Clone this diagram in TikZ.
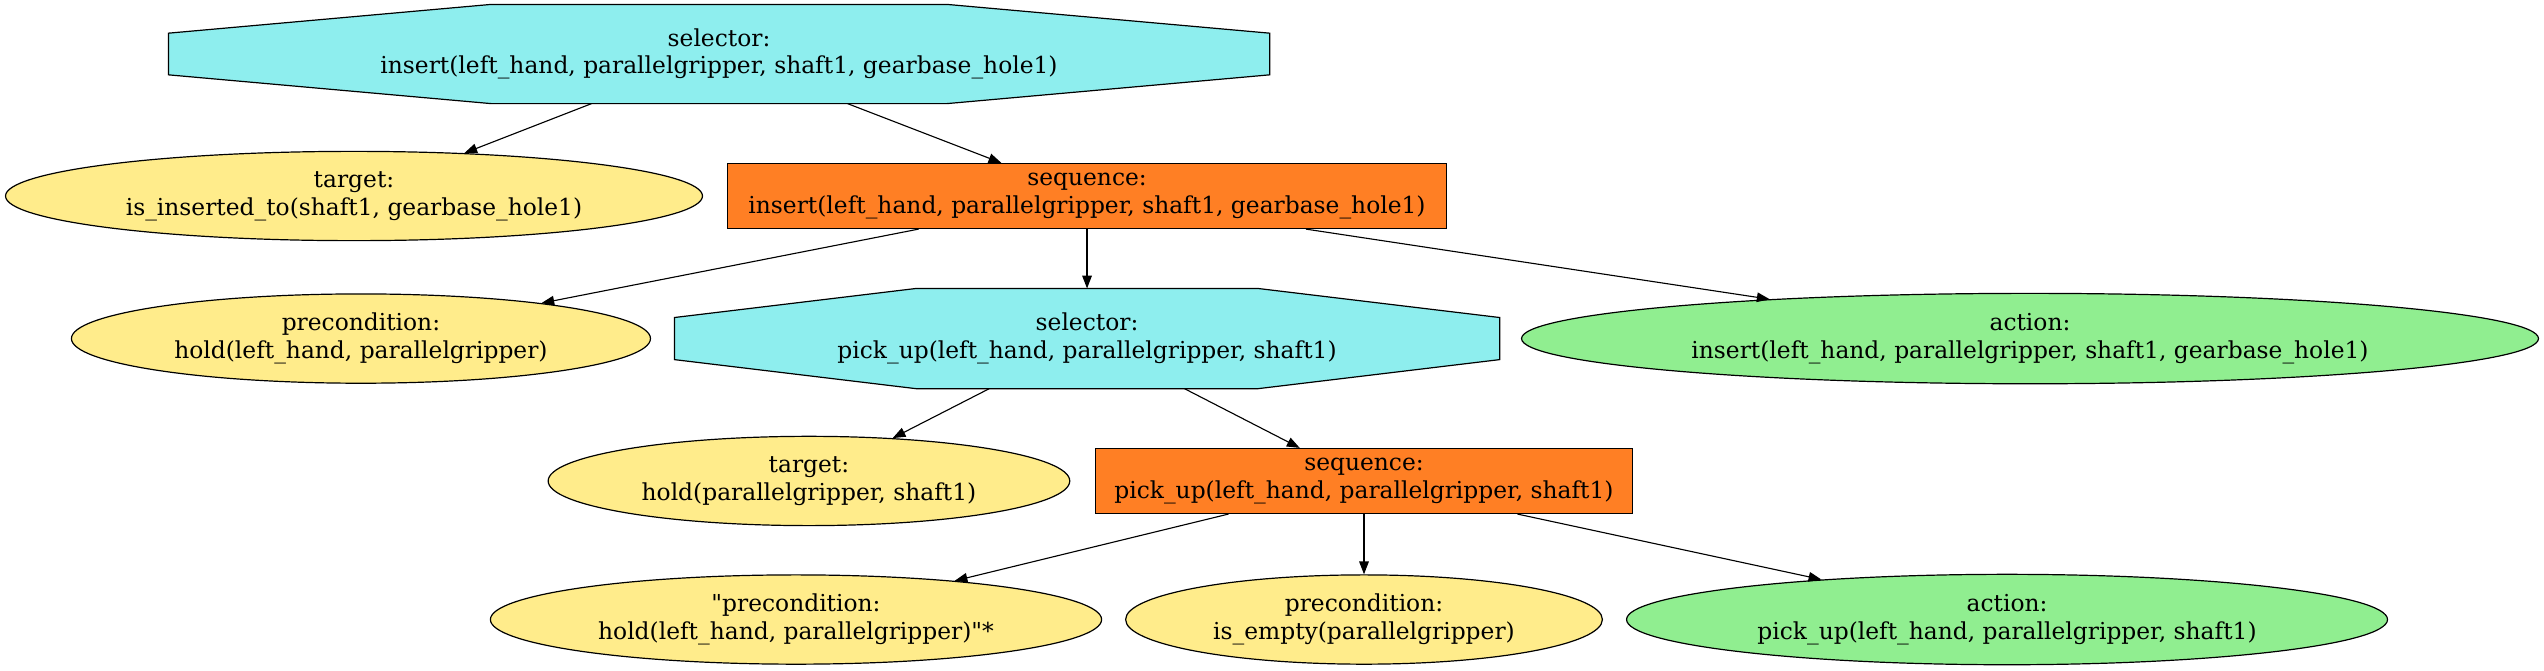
\documentclass[tikz,border=0pt]{standalone}
\usepackage{fontspec}
\setmainfont{DejaVu Serif}
\usetikzlibrary{shapes.geometric,arrows.meta,calc,backgrounds}

\definecolor{selcyan}{RGB}{142,238,238}
\definecolor{seqorange}{RGB}{255,127,36}
\definecolor{condyellow}{RGB}{255,236,139}
\definecolor{actgreen}{RGB}{144,238,144}

\begin{document}
\begin{tikzpicture}[x=1pt,y=-1pt,>={Triangle[length=8pt,width=6pt]},
    every node/.style={draw,line width=0.75pt,inner sep=0pt,align=center,font=\fontsize{14.6}{17.3}\selectfont},
    selector/.style 2 args={rectangle,draw=none,minimum width=#1,minimum height=#2},
    sequence/.style 2 args={rectangle,fill=seqorange,minimum width=#1,minimum height=#2},
    condition/.style={ellipse,fill=condyellow,minimum width=#1,minimum height=55.8pt},
    action/.style={ellipse,fill=actgreen,minimum width=#1,minimum height=56.5pt}]
  \useasboundingbox (0,0) rectangle (1590,418.75);
  \node[selector={687.5pt}{61.25pt}] (sel1) at (449.4,33.75) {selector:\\insert(left\_hand, parallelgripper, shaft1, gearbase\_hole1)};
  \node[condition=435.6pt] (tgt1) at (221.25,122.5) {target:\\is\_inserted\_to(shaft1, gearbase\_hole1)};
  \node[sequence={449.4pt}{40.6pt}] (seq1) at (679.4,122.5) {sequence:\\insert(left\_hand, parallelgripper, shaft1, gearbase\_hole1)};
  \node[condition=361.9pt] (pre1) at (225.6,211.6) {precondition:\\hold(left\_hand, parallelgripper)};
  \node[selector={515pt}{61.9pt}] (sel2) at (679.4,211.6) {selector:\\pick\_up(left\_hand, parallelgripper, shaft1)};
  \node[action=635.6pt] (act1) at (1268.75,211.6) {action:\\insert(left\_hand, parallelgripper, shaft1, gearbase\_hole1)};
  \node[condition=326pt] (tgt2) at (505.6,300.6) {target:\\hold(parallelgripper, shaft1)};
  \node[sequence={336pt}{40.6pt}] (seq2) at (852.5,300.6) {sequence:\\pick\_up(left\_hand, parallelgripper, shaft1)};
  \node[condition=382pt] (pre2) at (497.5,387.2) {\textquotedbl precondition:\\hold(left\_hand, parallelgripper)\textquotedbl*};
  \node[condition=298pt] (pre3) at (852.5,387.2) {precondition:\\is\_empty(parallelgripper)};
  \node[action=475.6pt] (act2) at (1254.4,387.2) {action:\\pick\_up(left\_hand, parallelgripper, shaft1)};
  % octagons behind the selector nodes
  \begin{scope}[on background layer]
    \foreach \n in {sel1,sel2}
      \filldraw[fill=selcyan,line width=0.75pt]
        ($(\n.north west)!0.293!(\n.north east)$) -- ($(\n.north west)!0.707!(\n.north east)$)
        -- ($(\n.north east)!0.29!(\n.south east)$) -- ($(\n.north east)!0.71!(\n.south east)$)
        -- ($(\n.south west)!0.707!(\n.south east)$) -- ($(\n.south west)!0.293!(\n.south east)$)
        -- ($(\n.north west)!0.71!(\n.south west)$) -- ($(\n.north west)!0.29!(\n.south west)$) -- cycle;
  \end{scope}
  \path[->,line width=0.7pt]
    (sel1) edge (tgt1)
    (sel1) edge (seq1)
    (seq1) edge (pre1)
    (seq1) edge (sel2)
    (seq1) edge (act1)
    (sel2) edge (tgt2)
    (sel2) edge (seq2)
    (seq2) edge (pre2)
    (seq2) edge (pre3)
    (seq2) edge (act2);
\end{tikzpicture}
\end{document}
